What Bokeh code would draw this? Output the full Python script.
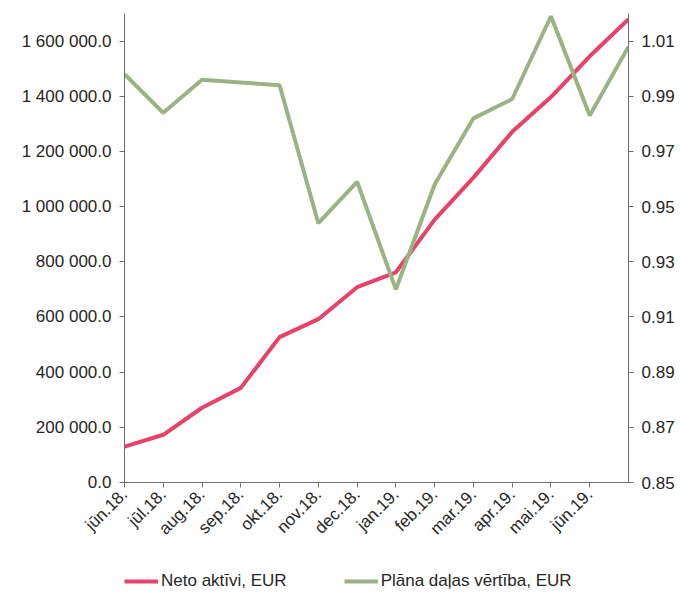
import math
from bokeh.plotting import figure
from bokeh.layouts import column
from bokeh.models import Range1d, LinearAxis, FixedTicker, Legend, LegendItem
from bokeh.embed import file_html
from bokeh.resources import INLINE

# ---- data ----
months = ["jūn.18.", "jūl.18.", "aug.18.", "sep.18.", "okt.18.", "nov.18.", "dec.18.",
          "jan.19.", "feb.19.", "mar.19.", "apr.19.", "mai.19.", "jūn.19.", ""]
net_assets = [130000, 173000, 271000, 343000, 527000, 592000, 708000,
              762000, 953000, 1105000, 1271000, 1397000, 1545000, 1679000]
unit_value = [0.998, 0.984, 0.996, 0.995, 0.994, 0.944, 0.959,
              0.920, 0.958, 0.982, 0.989, 1.019, 0.983, 1.008]
left_ticks = [0, 200000, 400000, 600000, 800000, 1000000, 1200000, 1400000, 1600000]
left_labels = ["0.0", "200 000.0", "400 000.0", "600 000.0", "800 000.0",
               "1 000 000.0", "1 200 000.0", "1 400 000.0", "1 600 000.0"]
right_ticks = [0.85, 0.87, 0.89, 0.91, 0.93, 0.95, 0.97, 0.99, 1.01]
right_labels = ["0.85", "0.87", "0.89", "0.91", "0.93", "0.95", "0.97", "0.99", "1.01"]
series_names = ["Neto aktīvi, EUR", "Plāna daļas vērtība, EUR"]
series_colors = ["#E8426B", "#9BB383"]

x = list(range(len(months)))

FONT = "Liberation Sans"
FS = "17px"
TXT = "#262626"
AX = "#6e6e6e"

p = figure(width=681, height=560, output_backend="svg", toolbar_location=None,
           x_range=Range1d(0, len(months) - 1), y_range=Range1d(0, 1700000),
           min_border_left=124, min_border_right=53, min_border_top=13, min_border_bottom=78)
p.extra_y_ranges = {"right": Range1d(0.85, 1.02)}
p.outline_line_color = None
p.xgrid.visible = False
p.ygrid.visible = False

def style_axis(ax):
    ax.axis_line_color = AX
    ax.major_tick_line_color = AX
    ax.major_tick_out = 5
    ax.major_tick_in = 0
    ax.minor_tick_line_color = None
    ax.major_label_text_font = FONT
    ax.major_label_text_font_size = FS
    ax.major_label_text_color = TXT

# x axis
xa = p.xaxis[0]
xa.ticker = FixedTicker(ticks=x[:-1])
xa.major_label_overrides = {i: m for i, m in enumerate(months) if m}
xa.major_label_orientation = math.pi / 4
xa.major_label_standoff = 4
style_axis(xa)

# left axis
ya = p.yaxis[0]
ya.ticker = FixedTicker(ticks=left_ticks)
ya.major_label_overrides = {t: l for t, l in zip(left_ticks, left_labels)}
ya.major_label_standoff = 8
style_axis(ya)

# right axis
ra = LinearAxis(y_range_name="right")
ra.ticker = FixedTicker(ticks=right_ticks)
ra.major_label_overrides = {t: l for t, l in zip(right_ticks, right_labels)}
ra.major_label_standoff = 8
style_axis(ra)
p.add_layout(ra, "right")

p.line(x, net_assets, line_color=series_colors[0], line_width=4)
p.line(x, unit_value, y_range_name="right", line_color=series_colors[1], line_width=4)

# ---- legend strip ----
lf = figure(width=681, height=34, output_backend="svg", toolbar_location=None,
            x_range=Range1d(0, 1), y_range=Range1d(0, 1),
            min_border_left=124, min_border_right=53, min_border_top=0, min_border_bottom=0)
lf.axis.visible = False
lf.grid.visible = False
lf.outline_line_color = None
items = []
for name, col in zip(series_names, series_colors):
    r = lf.line([5, 6], [5, 6], line_color=col, line_width=4)
    items.append(LegendItem(label=name, renderers=[r]))
legend = Legend(items=items, location=(0, 3), orientation="horizontal")
legend.margin = 0
legend.padding = 0
legend.spacing = 57
legend.glyph_width = 34
legend.glyph_height = 20
legend.label_height = 20
legend.label_standoff = 3
legend.label_text_font = FONT
legend.label_text_font_size = FS
legend.label_text_color = TXT
legend.border_line_color = None
legend.background_fill_alpha = 0
lf.add_layout(legend)

layout = column(p, lf, spacing=0)
open("out.html", "w").write(file_html(layout, INLINE))
